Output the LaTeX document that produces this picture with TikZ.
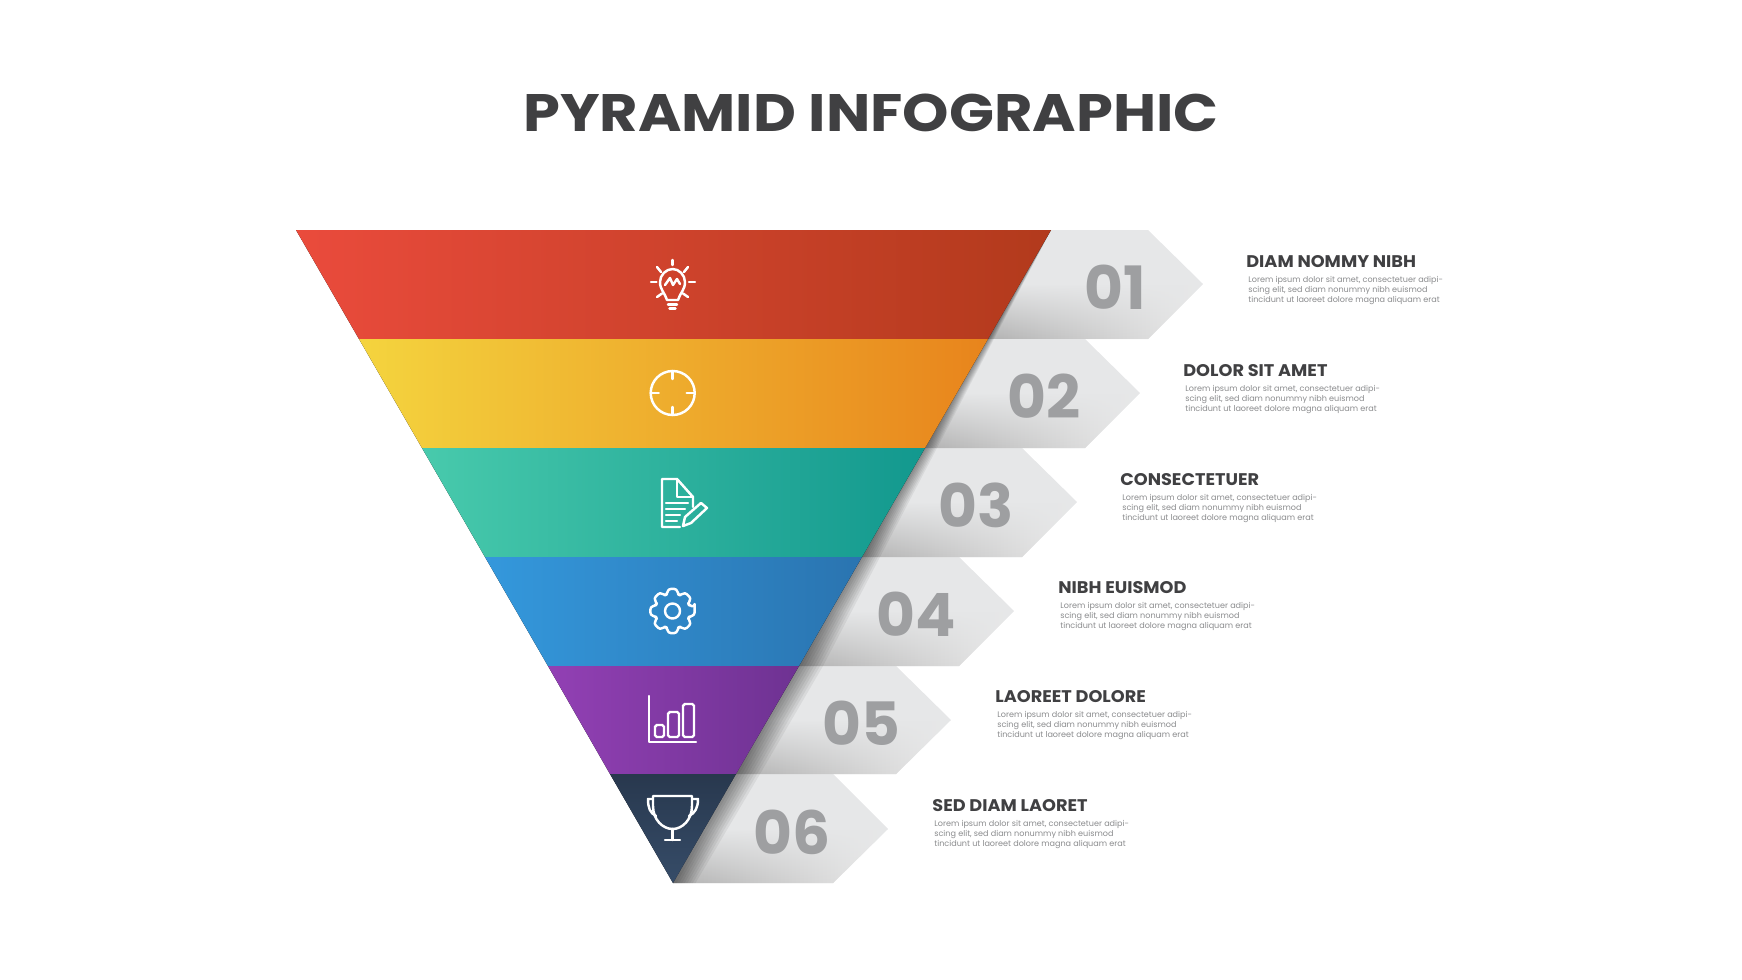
\documentclass[tikz,border=0pt]{standalone}
\usepackage{fontspec}
\setmainfont{Poppins}
\newfontfamily\titlefont[FakeStretch=1.12]{Poppins}
\newfontfamily\headfont[FakeStretch=1.05]{Poppins}
\usepackage{tikz}
\usetikzlibrary{positioning,fadings}
\definecolor{inktext}{RGB}{64,64,66}
\definecolor{bodytext}{RGB}{138,139,141}
\definecolor{numbergrey}{RGB}{158,159,161}
\definecolor{arrowgrey}{RGB}{230,231,232}

\begin{document}
\begin{tikzpicture}[
    x=0.02cm, y=-0.02cm,
    redband/.style={left color={rgb,255:red,234;green,75;blue,60}, right color={rgb,255:red,178;green,58;blue,28}},
    yellowband/.style={left color={rgb,255:red,244;green,212;blue,62}, right color={rgb,255:red,232;green,132;blue,28}},
    tealband/.style={left color={rgb,255:red,72;green,202;blue,172}, right color={rgb,255:red,18;green,152;blue,142}},
    blueband/.style={left color={rgb,255:red,52;green,152;blue,220}, right color={rgb,255:red,42;green,116;blue,176}},
    purpleband/.style={left color={rgb,255:red,146;green,64;blue,180}, right color={rgb,255:red,110;green,50;blue,146}},
    navyband/.style={top color={rgb,255:red,40;green,56;blue,78}, bottom color={rgb,255:red,54;green,76;blue,104}},
    arrowbase/.style={fill=arrowgrey},
    arrowshade/.style={left color=black!30, right color=black!8, path fading=north},
    wedgeshade/.style={fill=black, opacity=0.06},
    iconline/.style={draw=white, line width=1.4pt, line cap=round, line join=round},
    numlabel/.style={text=numbergrey, font=\fontsize{34}{34}\selectfont\bfseries},
    headlabel/.style={anchor=west, inner sep=0pt, text=inktext, font=\fontsize{9.6}{10}\headfont\bfseries},
    desclabel/.style={inner sep=0pt, text=bodytext, align=left, font=\fontsize{4.6}{5.5}\selectfont}
]
\useasboundingbox (0,0) rectangle (1742,980);

% Title
\node[text=inktext, font=\fontsize{30}{30}\titlefont\bfseries] (title) at (871,113) {PYRAMID INFOGRAPHIC};

% Grey arrows behind the numbers
\fill[arrowbase] (1051,230) -- (1148,230) -- (1203,284) -- (1148,339) -- (988,339) -- cycle;
\fill[arrowbase] (988,339) -- (1085,339) -- (1140,393) -- (1085,448) -- (925,448) -- cycle;
\fill[arrowbase] (925,448) -- (1022,448) -- (1077,502) -- (1022,557) -- (862,557) -- cycle;
\fill[arrowbase] (862,557) -- (959,557) -- (1014,611) -- (959,666) -- (799,666) -- cycle;
\fill[arrowbase] (799,666) -- (896,666) -- (951,720) -- (896,774) -- (736,774) -- cycle;
\fill[arrowbase] (736,774) -- (833,774) -- (888,829) -- (833,883) -- (673,883) -- cycle;

% Darker lower half of each arrow
\shade[arrowshade] (1020,284) -- (1203,284) -- (1148,339) -- (988,339) -- cycle;
\shade[arrowshade] (957,393) -- (1140,393) -- (1085,448) -- (925,448) -- cycle;
\shade[arrowshade] (894,502) -- (1077,502) -- (1022,557) -- (862,557) -- cycle;
\shade[arrowshade] (831,611) -- (1014,611) -- (959,666) -- (799,666) -- cycle;
\shade[arrowshade] (768,720) -- (951,720) -- (896,774) -- (736,774) -- cycle;
\shade[arrowshade] (705,829) -- (888,829) -- (833,883) -- (673,883) -- cycle;

% Shadow thrown along the pyramid edge
\foreach \w in {4,7,10,13,16,19,22,25}
    \fill[wedgeshade] (1051,230) -- (673,883) -- (673+0.9*\w,883) -- (735+\w,774) -- (798+\w,666) -- cycle;

% Pyramid layers
\fill[redband] (296,230) -- (1051,230) -- (988,339) -- (359,339) -- cycle;
\fill[yellowband] (359,339) -- (988,339) -- (925,448) -- (422,448) -- cycle;
\fill[tealband] (422,448) -- (925,448) -- (862,557) -- (485,557) -- cycle;
\fill[blueband] (485,557) -- (862,557) -- (799,666) -- (548,666) -- cycle;
\fill[purpleband] (548,666) -- (799,666) -- (736,774) -- (610,774) -- cycle;
\fill[navyband] (610,774) -- (736,774) -- (673,883) -- cycle;

% Numbers
\node[numlabel] (num01) at (1115,287) {01};
\node[numlabel] (num02) at (1044,396) {02};
\node[numlabel] (num03) at (976,505) {03};
\node[numlabel] (num04) at (916,614) {04};
\node[numlabel] (num05) at (861,723) {05};
\node[numlabel] (num06) at (792,832) {06};

% Right hand texts
\node[headlabel] (head01) at (1246,262) {DIAM NOMMY NIBH};
\node[headlabel] (head02) at (1183,371) {DOLOR SIT AMET};
\node[headlabel] (head03) at (1120,480) {CONSECTETUER};
\node[headlabel] (head04) at (1058,588) {NIBH EUISMOD};
\node[headlabel] (head05) at (995,697) {LAOREET DOLORE};
\node[headlabel] (head06) at (932,806) {SED DIAM LAORET};

\node[desclabel, below=1.6mm of head01.south west, anchor=north west, xshift=0.4mm] (desc01) {Lorem ipsum dolor sit amet, consectetuer adipi-\\scing elit, sed diam nonummy nibh euismod\\tincidunt ut laoreet dolore magna aliquam erat};
\node[desclabel, below=1.6mm of head02.south west, anchor=north west, xshift=0.4mm] (desc02) {Lorem ipsum dolor sit amet, consectetuer adipi-\\scing elit, sed diam nonummy nibh euismod\\tincidunt ut laoreet dolore magna aliquam erat};
\node[desclabel, below=1.6mm of head03.south west, anchor=north west, xshift=0.4mm] (desc03) {Lorem ipsum dolor sit amet, consectetuer adipi-\\scing elit, sed diam nonummy nibh euismod\\tincidunt ut laoreet dolore magna aliquam erat};
\node[desclabel, below=1.6mm of head04.south west, anchor=north west, xshift=0.4mm] (desc04) {Lorem ipsum dolor sit amet, consectetuer adipi-\\scing elit, sed diam nonummy nibh euismod\\tincidunt ut laoreet dolore magna aliquam erat};
\node[desclabel, below=1.6mm of head05.south west, anchor=north west, xshift=0.4mm] (desc05) {Lorem ipsum dolor sit amet, consectetuer adipi-\\scing elit, sed diam nonummy nibh euismod\\tincidunt ut laoreet dolore magna aliquam erat};
\node[desclabel, below=1.6mm of head06.south west, anchor=north west, xshift=0.4mm] (desc06) {Lorem ipsum dolor sit amet, consectetuer adipi-\\scing elit, sed diam nonummy nibh euismod\\tincidunt ut laoreet dolore magna aliquam erat};

% Bulb icon
\draw[iconline] (667,300) .. controls (665,293) and (660,290) .. (660,282) .. controls (660,275) and (666,269) .. (672.7,269) .. controls (679,269) and (685,275) .. (685,282) .. controls (685,290) and (680,293) .. (678,300) -- cycle;
\draw[iconline] (665,285) -- (670,278) -- (673,285) -- (677,279) -- (680,284);
\draw[iconline] (668,304.5) -- (677,304.5) (669.5,308.5) -- (675.5,308.5);
\draw[iconline] (672.7,260) -- (672.7,265) (651,282) -- (656.5,282) (689,282) -- (695,282);
\draw[iconline] (657,267) -- (661,272) (688,267) -- (684,272) (657,297) -- (662,293.5) (688,297) -- (683,293.5);

% Target icon
\draw[iconline] (672.7,393) circle (22);
\draw[iconline] (672.7,371) -- (672.7,379) (672.7,407) -- (672.7,415) (650.7,393) -- (658.7,393) (686.7,393) -- (694.7,393);

% Document icon
\draw[iconline] (693,507) -- (693,497) -- (677,479) -- (662,479) -- (662,527) -- (680,527);
\draw[iconline] (677,479) -- (677,497) -- (693,497);
\draw[iconline] (666,503) -- (688,503) (666,509) -- (685,509) (666,515) -- (680,515) (666,521) -- (677,521);
\draw[iconline] (683,526) -- (685,517) -- (701,503) -- (707,508) -- (691,523) -- cycle;

% Gear icon
\begin{scope}[shift={(672.5,611)}]
\draw[iconline, rounded corners=1.5pt] (-11:22.5)
    \foreach \a in {0,45,...,315} {
        -- (\a-11:22.5) -- (\a+11:22.5) -- (\a+18:17.5) -- (\a+27:17.5)
    } -- cycle;
\draw[iconline] (0,0) circle (7.5);
\end{scope}

% Chart icon
\draw[iconline] (649,696) -- (649,742) -- (696,742);
\draw[iconline, rounded corners=1pt] (655,737) rectangle (664,725);
\draw[iconline, rounded corners=1pt] (668,737) rectangle (679,712);
\draw[iconline, rounded corners=1pt] (683,737) rectangle (694,704);

% Trophy icon
\draw[iconline] (653,796) -- (692,796) -- (692,806) .. controls (692,820) and (682,829) .. (672.7,829) .. controls (663,829) and (653,820) .. (653,806) -- cycle;
\draw[iconline] (653,799) -- (648,799) .. controls (648,808) and (650,813) .. (656,816);
\draw[iconline] (692,799) -- (698,799) .. controls (698,808) and (695,813) .. (689,816);
\draw[iconline] (672.7,829) -- (672.7,840) (665,840) -- (680,840);
\end{tikzpicture}
\end{document}
